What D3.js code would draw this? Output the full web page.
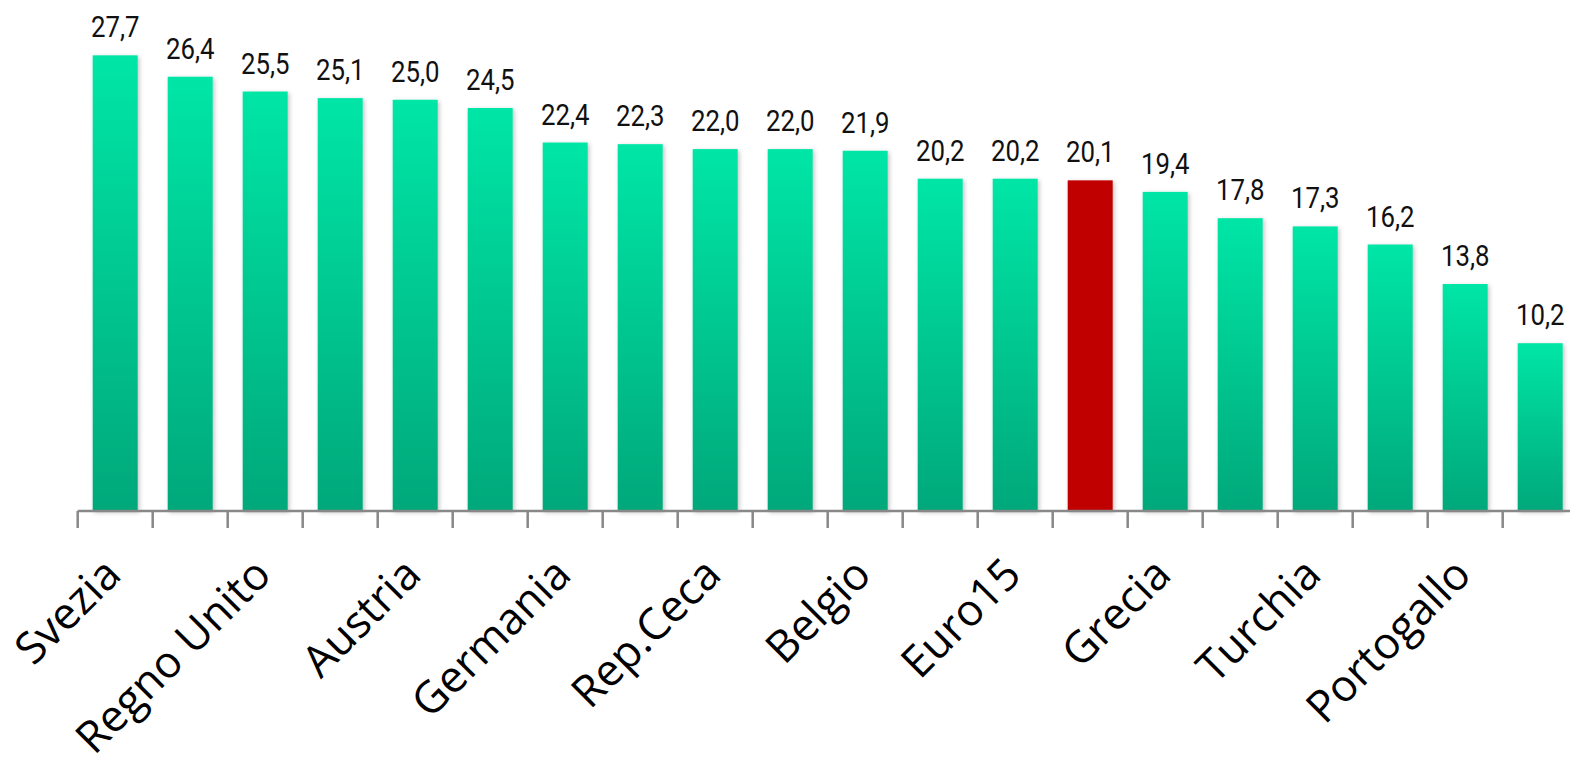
<!DOCTYPE html>
<html><head><meta charset="utf-8">
<script src="https://cdn.jsdelivr.net/npm/d3@7/dist/d3.min.js"></script>
<style>html,body{margin:0;padding:0;background:#fff;}svg{display:block;}</style>
</head><body>
<svg id="chart" width="1570" height="759"></svg>
<script>
const categories = ["Svezia","Danimarca","Regno Unito","Francia","Austria","Finlandia","Germania","Olanda","Rep.Ceca","Norvegia","Belgio","Spagna","Euro15","Italia","Grecia","Irlanda","Turchia","Polonia","Portogallo","Slovacchia"];
const values = [27.7,26.4,25.5,25.1,25.0,24.5,22.4,22.3,22.0,22.0,21.9,20.2,20.2,20.1,19.4,17.8,17.3,16.2,13.8,10.2];
const shownLabels = ["Svezia","Regno Unito","Austria","Germania","Rep.Ceca","Belgio","Euro15","Grecia","Turchia","Portogallo"];
const highlighted = ["Italia"];

const svg = d3.select("#chart");
const x0 = 77.7, bandW = 75, baseY = 511;
const x = d3.scaleBand().domain(categories).range([x0, x0 + bandW*categories.length]).paddingInner(0.4).paddingOuter(0.2);
const y = d3.scaleLinear().domain([0, 30]).range([baseY, 17.5]);

const defs = svg.append("defs");
const g1 = defs.append("linearGradient").attr("id","gGreen").attr("x1",0).attr("y1",0).attr("x2",0).attr("y2",1);
g1.append("stop").attr("offset","0%").attr("stop-color","#00E6A6");
g1.append("stop").attr("offset","100%").attr("stop-color","#00A87A");
const f = defs.append("filter").attr("id","shadow").attr("x","-20%").attr("y","-5%").attr("width","140%").attr("height","110%");
f.append("feDropShadow").attr("dx",1.5).attr("dy",1.5).attr("stdDeviation",2).attr("flood-color","#000").attr("flood-opacity",0.25);

const data = categories.map((c,i)=>({c, v: values[i]}));

svg.append("g").selectAll("rect").data(data).join("rect")
  .attr("x", d=>x(d.c)).attr("width", x.bandwidth())
  .attr("y", d=>y(d.v)).attr("height", d=>baseY - y(d.v))
  .attr("fill", d=> highlighted.includes(d.c) ? "#C00000" : "url(#gGreen)")
  .attr("filter","url(#shadow)");

// axis
const axis = d3.axisBottom(x).tickSize(0).tickFormat(d => shownLabels.includes(d) ? d : "");
const ag = svg.append("g").attr("transform",`translate(0,${baseY})`).call(axis);
ag.select(".domain").attr("stroke","#888").attr("stroke-width",2.5).attr("d",`M${x0},0H1570`);
const bounds = d3.range(categories.length+1).map(i => x0 + i*bandW);
ag.append("g").selectAll("line").data(bounds).join("line")
  .attr("x1",d=>d).attr("x2",d=>d).attr("y1",0).attr("y2",17)
  .attr("stroke","#888").attr("stroke-width",2.5);
ag.selectAll(".tick text")
  .attr("font-family","'Open Sans', sans-serif")
  .attr("font-size",44).attr("fill","#000")
  .attr("text-anchor","end")
  .attr("dy",0).attr("y",0)
  .attr("transform","translate(8,66) rotate(-45)");

// value labels
svg.append("g").selectAll("text").data(data).join("text")
  .attr("transform", d=>`translate(${x(d.c)+x.bandwidth()/2},${y(d.v)-18}) scale(0.86,1)`)
  .attr("text-anchor","middle")
  .attr("font-family","Roboto, sans-serif")
  .attr("font-size",30).attr("fill","#111")
  .text(d=>d3.format(".1f")(d.v).replace(".",","));
</script>
</body></html>
